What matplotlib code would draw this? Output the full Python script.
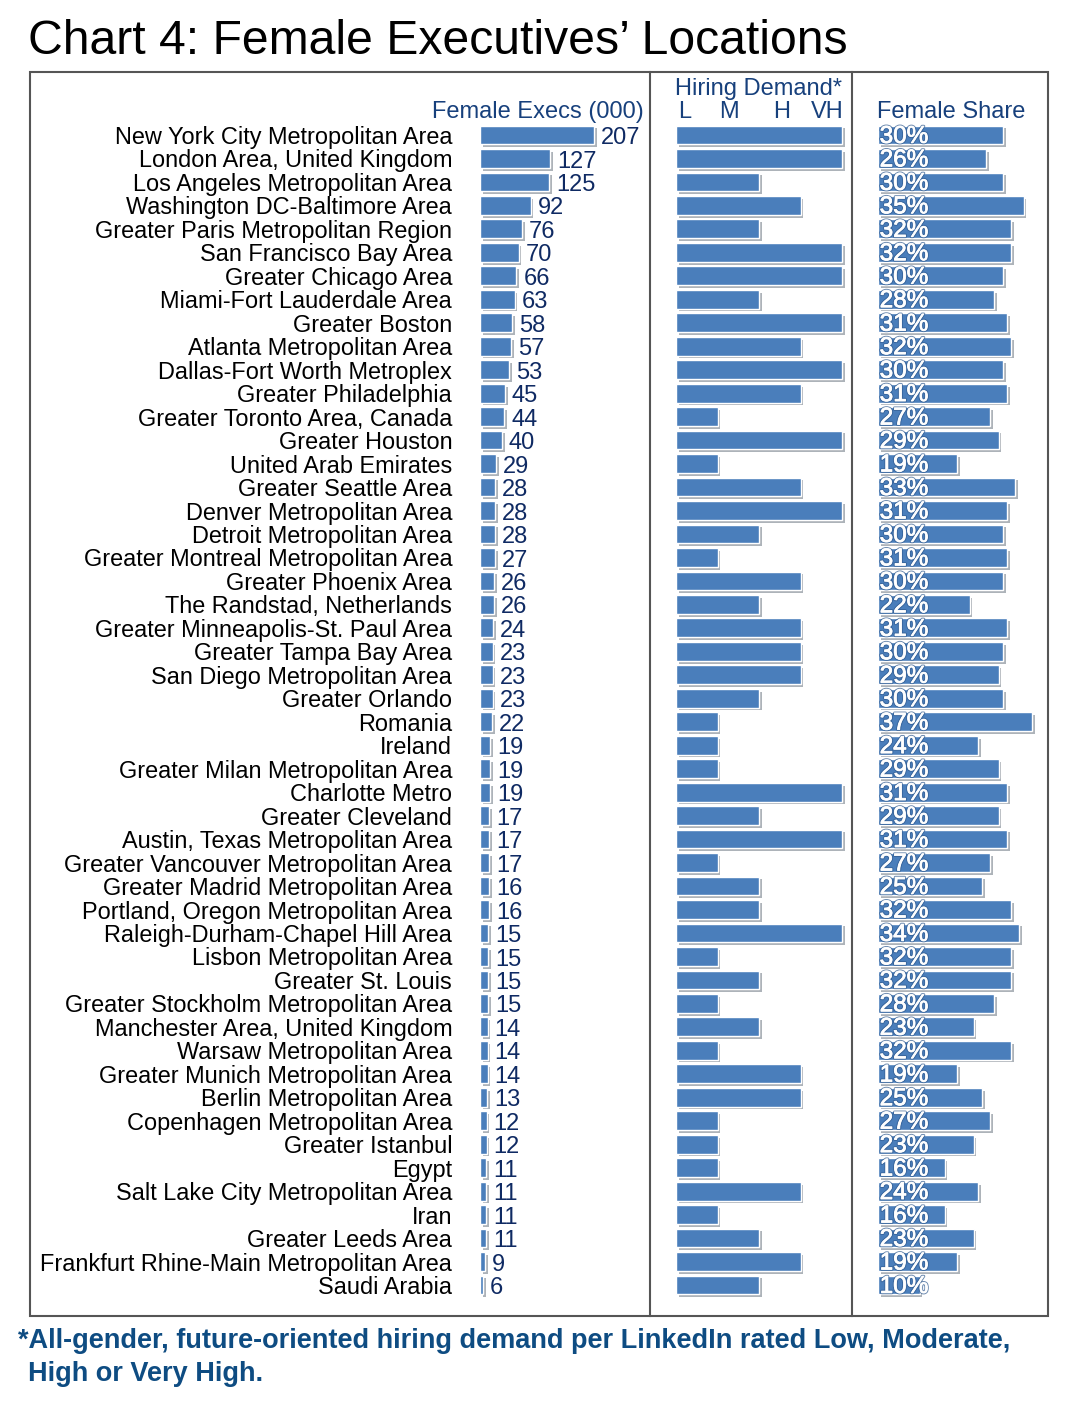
import matplotlib
matplotlib.use("Agg")
import matplotlib.pyplot as plt
import matplotlib.patheffects as pe
from matplotlib.patches import Rectangle
from matplotlib.lines import Line2D

plt.rcParams['font.family'] = ['Liberation Sans', 'DejaVu Sans']

# datos de la tabla
ciudades = [
    "New York City Metropolitan Area", "London Area, United Kingdom",
    "Los Angeles Metropolitan Area", "Washington DC-Baltimore Area",
    "Greater Paris Metropolitan Region", "San Francisco Bay Area",
    "Greater Chicago Area", "Miami-Fort Lauderdale Area", "Greater Boston",
    "Atlanta Metropolitan Area", "Dallas-Fort Worth Metroplex",
    "Greater Philadelphia", "Greater Toronto Area, Canada", "Greater Houston",
    "United Arab Emirates", "Greater Seattle Area", "Denver Metropolitan Area",
    "Detroit Metropolitan Area", "Greater Montreal Metropolitan Area",
    "Greater Phoenix Area", "The Randstad, Netherlands",
    "Greater Minneapolis-St. Paul Area", "Greater Tampa Bay Area",
    "San Diego Metropolitan Area", "Greater Orlando", "Romania", "Ireland",
    "Greater Milan Metropolitan Area", "Charlotte Metro", "Greater Cleveland",
    "Austin, Texas Metropolitan Area", "Greater Vancouver Metropolitan Area",
    "Greater Madrid Metropolitan Area", "Portland, Oregon Metropolitan Area",
    "Raleigh-Durham-Chapel Hill Area", "Lisbon Metropolitan Area",
    "Greater St. Louis", "Greater Stockholm Metropolitan Area",
    "Manchester Area, United Kingdom", "Warsaw Metropolitan Area",
    "Greater Munich Metropolitan Area", "Berlin Metropolitan Area",
    "Copenhagen Metropolitan Area", "Greater Istanbul", "Egypt",
    "Salt Lake City Metropolitan Area", "Iran", "Greater Leeds Area",
    "Frankfurt Rhine-Main Metropolitan Area", "Saudi Arabia",
]
ejecutivas = [207, 127, 125, 92, 76, 70, 66, 63, 58, 57, 53, 45, 44, 40, 29,
              28, 28, 28, 27, 26, 26, 24, 23, 23, 23, 22, 19, 19, 19, 17, 17,
              17, 16, 16, 15, 15, 15, 15, 14, 14, 14, 13, 12, 12, 11, 11, 11,
              11, 9, 6]
# demanda: 1=L, 2=M, 3=H, 4=VH
demanda = [4, 4, 2, 3, 2, 4, 4, 2, 4, 3, 4, 3, 1, 4, 1, 3, 4, 2, 1, 3, 2, 3,
           3, 3, 2, 1, 1, 1, 4, 2, 4, 1, 2, 2, 4, 1, 2, 1, 2, 1, 3, 3, 1, 1,
           1, 3, 1, 2, 3, 2]
niveles = ["L", "M", "H", "VH"]
cuota = [30, 26, 30, 35, 32, 32, 30, 28, 31, 32, 30, 31, 27, 29, 19, 33, 31,
         30, 31, 30, 22, 31, 30, 29, 30, 37, 24, 29, 31, 29, 31, 27, 25, 32,
         34, 32, 32, 28, 23, 32, 19, 25, 27, 23, 16, 24, 16, 23, 19, 10]

W, H = 1080, 1408
azul = "#4a7ebb"
navy = "#0f2a63"
azul_cab = "#17407c"
azul_nota = "#0e4c82"

fig = plt.figure(figsize=(W / 100, H / 100), dpi=100)

def caja(x0, x1):
    # ejes en pixeles (y arriba=72, abajo=1316)
    return fig.add_axes([x0 / W, 1 - 1316 / H, (x1 - x0) / W, (1316 - 72) / H])

paso = 23.47
ylim = ((1316 - 135) / paso, -(135 - 72) / paso)
filas = list(range(len(ciudades)))
sombra = [pe.SimplePatchShadow(offset=(2, -2), alpha=0.35), pe.Normal()]

# panel 1
ax1 = caja(480, 650)
ax1.set_xlim(0, 170 / (114 / 207))
ax1.set_ylim(*ylim)
b1 = ax1.barh(filas, ejecutivas, height=0.8, color=azul, edgecolor="white", linewidth=1)
for b, v in zip(b1, ejecutivas):
    b.set_path_effects(sombra)
    ax1.annotate(str(v), (v, b.get_y() + b.get_height() / 2), xytext=(5, -2.2),
                 textcoords="offset points", color=navy, fontsize=17,
                 va="center", ha="left")
ax1.set_yticks(filas)
ax1.set_yticklabels(ciudades, fontsize=16.9, color="black")
ax1.tick_params(axis="y", length=0, pad=20)
ax1.set_xticks([])

# panel 2
ax2 = caja(676, 852)
ax2.set_xlim(0, 176 / 41.5)
ax2.set_ylim(*ylim)
b2 = ax2.barh(filas, demanda, height=0.8, color=azul, edgecolor="white", linewidth=1)
for b in b2:
    b.set_path_effects(sombra)
ax2.set_xticks([])
ax2.set_yticks([])

# panel 3
ax3 = caja(878, 1048)
ax3.set_xlim(0, 170 / 4.16)
ax3.set_ylim(*ylim)
b3 = ax3.barh(filas, cuota, height=0.8, color=azul, edgecolor="white", linewidth=1)
for b, v in zip(b3, cuota):
    b.set_path_effects(sombra)
    t = ax3.text(0.4, b.get_y() + b.get_height() / 2 + 0.08, f"{v}%", color="white",
                 fontsize=17.5, va="center", ha="left")
    t.set_path_effects([pe.Stroke(linewidth=2.0, foreground="#2f5a8f", alpha=0.7),
                        pe.Stroke(linewidth=0.6, foreground="white"), pe.Normal()])
    t.set_clip_path(b)
ax3.set_xticks([])
ax3.set_yticks([])

for ax in (ax1, ax2, ax3):
    for s in ax.spines.values():
        s.set_visible(False)
    ax.patch.set_alpha(0)

# marco y divisores
fig.patches.append(Rectangle((30 / W, 1 - 1316 / H), (1048 - 30) / W, (1316 - 72) / H,
                             transform=fig.transFigure, fill=False,
                             edgecolor="#555555", linewidth=1.5))
for xd in (650, 852):
    fig.lines.append(Line2D([xd / W, xd / W], [1 - 72 / H, 1 - 1316 / H],
                            transform=fig.transFigure, color="#555555", linewidth=1.5))

def fx(x):
    return x / W

def fy(y):
    return 1 - y / H

fig.text(fx(28), fy(42), "Chart 4: Female Executives\u2019 Locations", fontsize=34.7,
         color="black", va="center", ha="left")
fig.text(fx(644), fy(112), "Female Execs (000)", fontsize=17, color=azul_cab,
         ha="right", va="center")
fig.text(fx(759), fy(89), "Hiring Demand*", fontsize=17, color=azul_cab,
         ha="center", va="center")
for n, xn in zip(niveles, [685, 729, 782, 827]):
    fig.text(fx(xn), fy(112), n, fontsize=17, color=azul_cab, ha="center", va="center")
fig.text(fx(951), fy(112), "Female Share", fontsize=17, color=azul_cab,
         ha="center", va="center")

fig.text(fx(18), fy(1341),
         "*All-gender, future-oriented hiring demand per LinkedIn rated Low, Moderate,",
         fontsize=19.5, fontweight="bold", color=azul_nota, ha="left", va="center")
fig.text(fx(28), fy(1374), "High or Very High.", fontsize=19.5, fontweight="bold",
         color=azul_nota, ha="left", va="center")

fig.savefig("out.png", dpi=100, facecolor="white")
